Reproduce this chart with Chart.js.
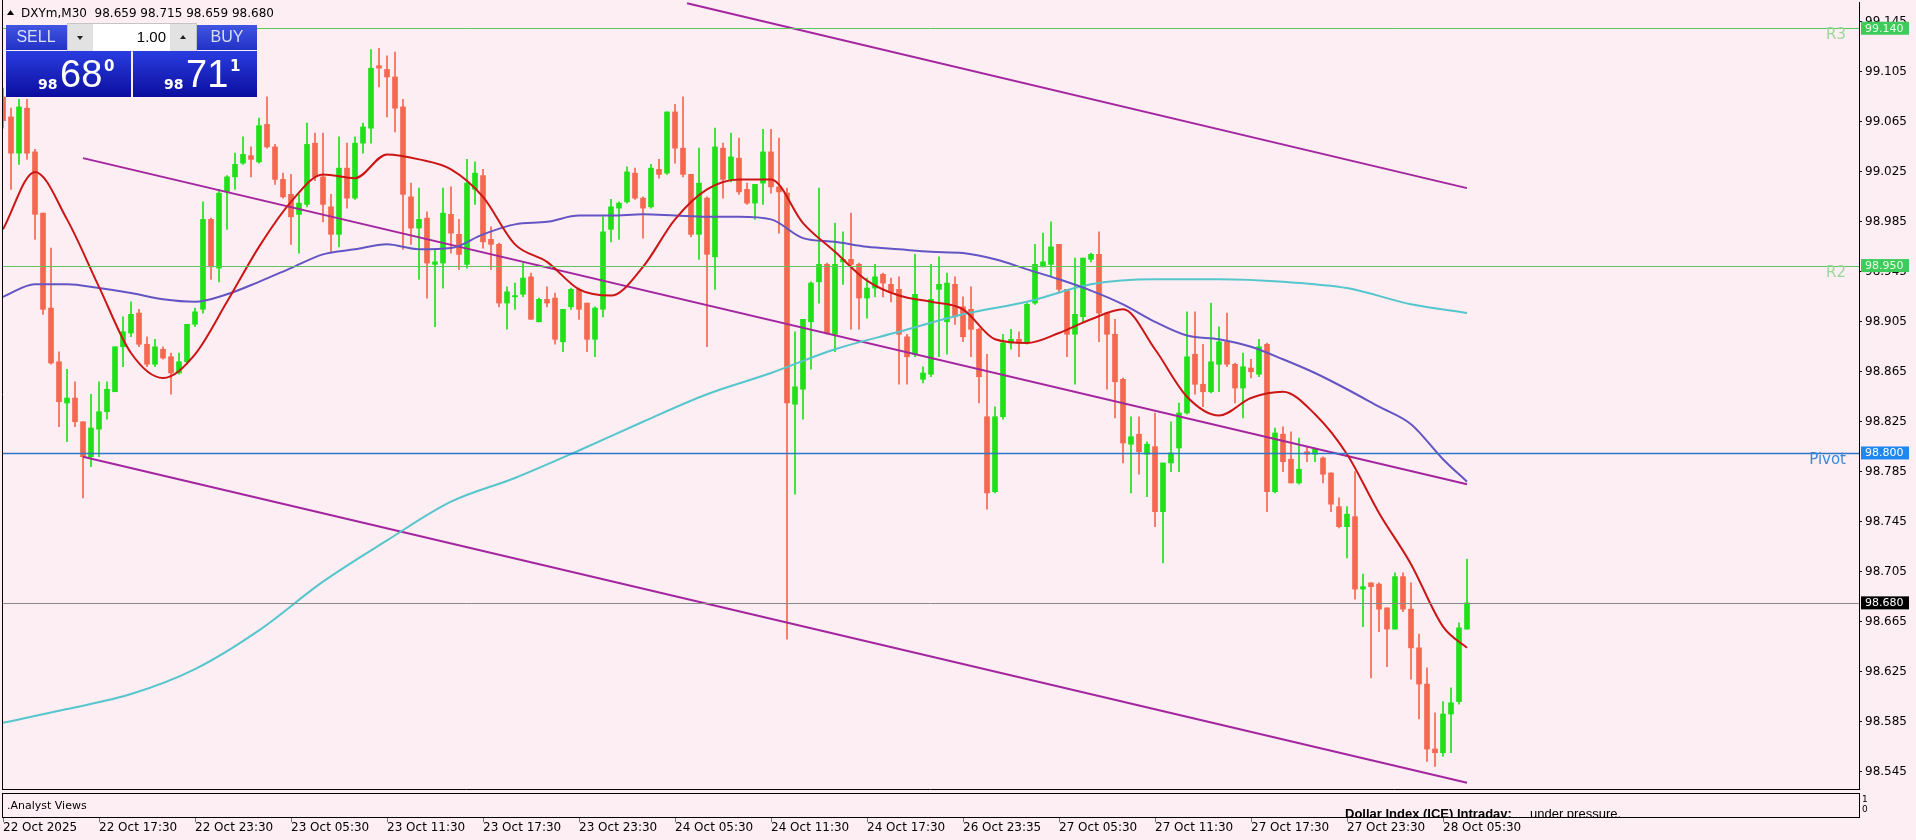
<!DOCTYPE html>
<html>
<head>
<meta charset="utf-8">
<script src="https://cdn.jsdelivr.net/npm/chart.js@4.4.1/dist/chart.umd.min.js"></script>
<style>
  html, body { margin: 0; padding: 0; background: #fdeef3; }
  #wrap { position: relative; width: 1916px; height: 840px; }
</style>
</head>
<body>
<div id="wrap"><canvas id="dxyChart"></canvas></div>
<script>
// time axis labels, one every 12 bars (M30)
var tickLabels = ['22 Oct 2025', '22 Oct 17:30', '22 Oct 23:30', '23 Oct 05:30', '23 Oct 11:30',
  '23 Oct 17:30', '23 Oct 23:30', '24 Oct 05:30', '24 Oct 11:30', '24 Oct 17:30', '26 Oct 23:35',
  '27 Oct 05:30', '27 Oct 11:30', '27 Oct 17:30', '27 Oct 23:30', '28 Oct 05:30'];
var priceTicks = [99.145, 99.105, 99.065, 99.025, 98.985, 98.945, 98.905, 98.865, 98.825,
  98.785, 98.745, 98.705, 98.665, 98.625, 98.585, 98.545];

var opens = [99.085, 99.069, 99.040, 99.076, 99.041, 98.992, 98.916, 98.873, 98.840, 98.844,
  98.825, 98.797, 98.819, 98.833, 98.849, 98.885, 98.896, 98.912, 98.887, 98.871,
  98.883, 98.877, 98.864, 98.873, 98.903, 98.915, 98.987, 98.948, 99.009, 99.021,
  99.032, 99.038, 99.033, 99.063, 99.045, 99.019, 99.007, 98.991, 98.999, 99.048,
  99.021, 98.997, 98.975, 99.028, 99.004, 99.048, 99.060, 99.110, 99.107, 99.101,
  99.077, 99.005, 98.980, 98.988, 98.951, 98.952, 98.991, 98.975, 98.951, 99.011,
  99.022, 98.971, 98.967, 98.920, 98.925, 98.927, 98.941, 98.905, 98.923, 98.924,
  98.889, 98.917, 98.931, 98.920, 98.891, 98.915, 98.979, 98.996, 99.001, 99.024,
  99.004, 98.997, 99.027, 99.024, 99.073, 99.044, 99.023, 98.975, 99.004, 98.957,
  99.044, 99.019, 99.036, 99.011, 99.000, 99.016, 99.041, 99.013, 99.008, 98.839,
  98.851, 98.905, 98.937, 98.951, 98.895, 98.953, 98.955, 98.951, 98.924, 98.932,
  98.943, 98.935, 98.931, 98.893, 98.879, 98.859, 98.863, 98.931, 98.905, 98.935,
  98.917, 98.915, 98.899, 98.829, 98.769, 98.829, 98.888, 98.891, 98.888, 98.920,
  98.949, 98.951, 98.967, 98.931, 98.895, 98.909, 98.955, 98.959, 98.912, 98.895,
  98.859, 98.807, 98.815, 98.799, 98.805, 98.753, 98.792, 98.804, 98.832, 98.879,
  98.855, 98.849, 98.871, 98.889, 98.871, 98.852, 98.868, 98.863, 98.887, 98.769,
  98.815, 98.795, 98.776, 98.801, 98.799, 98.796, 98.784, 98.757, 98.741, 98.749,
  98.691, 98.696, 98.695, 98.676, 98.659, 98.701, 98.675, 98.644, 98.615, 98.563,
  98.560, 98.591, 98.601, 98.659];
var highs = [99.092, 99.076, 99.083, 99.083, 99.043, 98.992, 98.964, 98.881, 98.867, 98.857,
  98.825, 98.847, 98.857, 98.857, 98.885, 98.909, 98.921, 98.915, 98.893, 98.891,
  98.885, 98.880, 98.880, 98.903, 98.916, 99.001, 98.988, 99.011, 99.022, 99.040,
  99.053, 99.045, 99.068, 99.085, 99.047, 99.024, 99.023, 99.007, 99.064, 99.056,
  99.056, 99.007, 99.053, 99.048, 99.053, 99.064, 99.123, 99.124, 99.118, 99.121,
  99.083, 99.016, 99.012, 98.993, 98.963, 99.012, 99.013, 98.987, 99.035, 99.033,
  99.027, 98.981, 98.968, 98.933, 98.936, 98.952, 98.944, 98.924, 98.933, 98.928,
  98.915, 98.932, 98.932, 98.920, 98.917, 98.989, 99.003, 99.001, 99.029, 99.028,
  99.005, 99.031, 99.035, 99.073, 99.079, 99.085, 99.023, 99.044, 99.005, 99.060,
  99.048, 99.056, 99.052, 99.016, 99.015, 99.059, 99.059, 99.052, 99.012, 98.897,
  98.907, 98.937, 99.012, 98.952, 98.984, 98.977, 98.992, 98.952, 98.940, 98.951,
  98.944, 98.940, 98.941, 98.895, 98.959, 98.869, 98.951, 98.957, 98.944, 98.941,
  98.925, 98.933, 98.900, 98.879, 98.837, 98.895, 98.899, 98.897, 98.920, 98.967,
  98.976, 98.985, 98.967, 98.931, 98.956, 98.956, 98.960, 98.977, 98.912, 98.907,
  98.860, 98.829, 98.829, 98.809, 98.832, 98.792, 98.825, 98.840, 98.913, 98.913,
  98.887, 98.920, 98.901, 98.912, 98.872, 98.880, 98.875, 98.891, 98.888, 98.820,
  98.821, 98.817, 98.812, 98.805, 98.804, 98.797, 98.784, 98.764, 98.757, 98.785,
  98.703, 98.696, 98.696, 98.676, 98.704, 98.704, 98.696, 98.655, 98.628, 98.592,
  98.601, 98.612, 98.664, 98.715];
var lows = [99.060, 99.011, 99.031, 99.035, 98.971, 98.911, 98.871, 98.821, 98.809, 98.821,
  98.764, 98.789, 98.797, 98.827, 98.849, 98.869, 98.893, 98.885, 98.869, 98.869,
  98.875, 98.847, 98.863, 98.871, 98.901, 98.912, 98.939, 98.937, 98.979, 99.011,
  99.031, 99.021, 99.032, 99.044, 99.015, 99.004, 98.967, 98.960, 98.997, 99.018,
  98.985, 98.961, 98.965, 98.996, 99.003, 99.040, 99.048, 99.093, 99.069, 99.057,
  98.963, 98.967, 98.939, 98.924, 98.901, 98.932, 98.960, 98.947, 98.948, 98.999,
  98.964, 98.947, 98.917, 98.899, 98.915, 98.925, 98.907, 98.905, 98.917, 98.887,
  98.881, 98.915, 98.907, 98.881, 98.877, 98.909, 98.969, 98.971, 99.000, 99.003,
  98.972, 98.996, 99.020, 99.023, 99.032, 99.021, 98.973, 98.955, 98.885, 98.931,
  99.004, 99.017, 99.007, 98.999, 98.987, 98.999, 99.008, 98.976, 98.651, 98.767,
  98.827, 98.867, 98.920, 98.895, 98.881, 98.935, 98.899, 98.899, 98.908, 98.925,
  98.925, 98.921, 98.855, 98.855, 98.877, 98.856, 98.861, 98.877, 98.879, 98.903,
  98.889, 98.877, 98.840, 98.755, 98.768, 98.827, 98.883, 98.877, 98.887, 98.919,
  98.949, 98.941, 98.928, 98.877, 98.855, 98.905, 98.953, 98.889, 98.851, 98.828,
  98.792, 98.768, 98.783, 98.765, 98.741, 98.712, 98.785, 98.785, 98.831, 98.847,
  98.837, 98.848, 98.849, 98.869, 98.840, 98.828, 98.860, 98.861, 98.753, 98.768,
  98.785, 98.776, 98.775, 98.793, 98.793, 98.776, 98.753, 98.740, 98.716, 98.683,
  98.661, 98.620, 98.657, 98.629, 98.659, 98.673, 98.619, 98.587, 98.553, 98.549,
  98.557, 98.560, 98.599, 98.659];
var closes = [99.066, 99.040, 99.077, 99.040, 98.991, 98.915, 98.872, 98.841, 98.844, 98.825,
  98.797, 98.820, 98.833, 98.851, 98.885, 98.897, 98.911, 98.887, 98.871, 98.885,
  98.876, 98.864, 98.873, 98.903, 98.913, 98.987, 98.949, 99.008, 99.021, 99.031,
  99.039, 99.035, 99.062, 99.045, 99.019, 99.005, 98.989, 99.000, 99.047, 99.021,
  98.999, 98.975, 99.028, 99.004, 99.048, 99.061, 99.108, 99.108, 99.101, 99.076,
  99.007, 98.980, 98.987, 98.952, 98.953, 98.992, 98.976, 98.959, 99.016, 99.024,
  98.969, 98.967, 98.920, 98.929, 98.926, 98.940, 98.907, 98.923, 98.920, 98.891,
  98.915, 98.931, 98.915, 98.891, 98.916, 98.977, 98.997, 99.000, 99.025, 99.004,
  98.996, 99.028, 99.023, 99.073, 99.044, 99.023, 98.975, 99.016, 98.959, 99.045,
  99.019, 99.037, 99.009, 99.000, 99.015, 99.041, 99.013, 99.009, 98.840, 98.853,
  98.907, 98.936, 98.951, 98.896, 98.951, 98.955, 98.951, 98.924, 98.932, 98.941,
  98.936, 98.929, 98.895, 98.877, 98.927, 98.864, 98.923, 98.935, 98.936, 98.909,
  98.893, 98.899, 98.861, 98.768, 98.829, 98.888, 98.891, 98.888, 98.919, 98.951,
  98.953, 98.965, 98.931, 98.895, 98.911, 98.956, 98.959, 98.912, 98.895, 98.857,
  98.808, 98.813, 98.801, 98.807, 98.753, 98.792, 98.800, 98.832, 98.877, 98.855,
  98.849, 98.873, 98.889, 98.871, 98.852, 98.869, 98.865, 98.885, 98.769, 98.816,
  98.793, 98.776, 98.787, 98.799, 98.803, 98.783, 98.759, 98.741, 98.751, 98.691,
  98.693, 98.693, 98.675, 98.659, 98.701, 98.675, 98.644, 98.615, 98.563, 98.560,
  98.591, 98.600, 98.660, 98.680];

// moving averages at these bar numbers
var maBars = [0, 4, 8, 12, 16, 20, 24, 28, 32, 36, 40, 44, 48, 52, 56, 60, 64, 68, 72, 76,
  80, 84, 88, 92, 96, 100, 104, 108, 112, 116, 120, 124, 128, 132, 136, 140, 144, 148, 152,
  156, 160, 164, 168, 172, 176, 180, 183];
var redMa = [98.979, 99.025, 98.987, 98.933, 98.880, 98.860, 98.879, 98.921, 98.965, 99.001,
  99.023, 99.020, 99.039, 99.035, 99.027, 99.005, 98.967, 98.953, 98.931, 98.926,
  98.949, 98.987, 99.011, 99.019, 99.019, 98.984, 98.961, 98.938, 98.926, 98.921,
  98.915, 98.891, 98.888, 98.896, 98.907, 98.915, 98.883, 98.845, 98.830, 98.844,
  98.849, 98.831, 98.799, 98.752, 98.711, 98.661, 98.644];
var purpleMa = [98.925, 98.935, 98.935, 98.932, 98.928, 98.923, 98.921, 98.927, 98.937, 98.948,
  98.959, 98.963, 98.967, 98.963, 98.964, 98.975, 98.983, 98.985, 98.990, 98.990,
  98.991, 98.990, 98.989, 98.989, 98.987, 98.972, 98.969, 98.965, 98.963, 98.961,
  98.960, 98.955, 98.947, 98.939, 98.930, 98.919, 98.905, 98.894, 98.891, 98.885,
  98.875, 98.864, 98.851, 98.837, 98.823, 98.795, 98.777];
var cyanBars = [0, 8, 16, 24, 32, 40, 48, 56, 64, 72, 80, 88, 96, 104, 112, 120, 128, 136,
  144, 152, 160, 168, 176, 183];
var cyanMa = [98.584, 98.595, 98.607, 98.627, 98.658, 98.697, 98.730, 98.761, 98.780, 98.802,
  98.825, 98.847, 98.864, 98.883, 98.897, 98.911, 98.921, 98.935, 98.939, 98.939,
  98.937, 98.932, 98.919, 98.912];

// trend channel, start and end points
var channelBars = [10, 183];
var upperChannelBars = [85.5, 183];
var upperChannel = [99.160, 99.012];
var middleChannel = [99.036, 98.775];
var lowerChannel = [98.797, 98.536];

var levelNames = ['R3', 'R2', 'Pivot'];
var levelValues = [99.140, 98.950, 98.800];

var colors = {
  bull: '#1ee01e',
  bear: '#ef6a50',
  red: '#cc1616',
  purple: '#6355c4',
  cyan: '#55c6cc',
  channel: '#a3259f',
  green: '#5fc65f',
  greenBox: '#3fca5c',
  greenText: '#98d898',
  blue: '#2a78c6',
  blueBox: '#1e88f0',
  blueText: '#3a88d8'
};

function pairs(xs, ys) {
  return xs.map(function(x, k) { return { x: x, y: ys[k] }; });
}

var last = closes.length - 1;
var bodies = opens.map(function(o, i) { return { x: i, y: [o, closes[i]] }; });
var wicks = lows.map(function(l, i) { return { x: i, y: [l, highs[i]] }; });
var candleColors = opens.map(function(o, i) { return closes[i] >= o ? colors.bull : colors.bear; });

function lineSet(data, color, width, smooth) {
  return {
    type: 'line', data: data, borderColor: color, borderWidth: width,
    pointRadius: 0, tension: smooth ? 0.4 : 0,
    cubicInterpolationMode: smooth ? 'monotone' : 'default', order: 1
  };
}

function drawBox(ctx, x, y, w, h, bg, fg, text) {
  ctx.fillStyle = bg;
  ctx.fillRect(x, y - h / 2, w, h);
  ctx.fillStyle = fg;
  ctx.font = '11px "DejaVu Sans"';
  ctx.textAlign = 'left';
  ctx.textBaseline = 'middle';
  ctx.fillText(text, x + 4, y + 0.5);
}

function drawPanel(ctx) {
  var g = ctx.createLinearGradient(0, 25, 0, 50);
  g.addColorStop(0, '#4154e2');
  g.addColorStop(1, '#2232c6');
  ctx.fillStyle = g;
  ctx.fillRect(6, 25, 61, 25);
  ctx.fillRect(197, 25, 60, 25);

  ctx.fillStyle = '#e2e2e2';
  ctx.fillRect(67, 23, 130, 29);
  ctx.fillStyle = '#ffffff';
  ctx.fillRect(93, 24, 77, 27);
  ctx.strokeStyle = '#c4c4c4';
  ctx.lineWidth = 1;
  ctx.strokeRect(67.5, 23.5, 129, 28);

  ctx.fillStyle = '#222';
  ctx.beginPath();
  ctx.moveTo(77, 36); ctx.lineTo(83, 36); ctx.lineTo(80, 40); ctx.closePath(); ctx.fill();
  ctx.beginPath();
  ctx.moveTo(180, 39); ctx.lineTo(186, 39); ctx.lineTo(183, 35); ctx.closePath(); ctx.fill();

  var g2 = ctx.createLinearGradient(0, 51, 0, 97);
  g2.addColorStop(0, '#2a3ce0');
  g2.addColorStop(1, '#0b0e9e');
  ctx.fillStyle = g2;
  ctx.fillRect(6, 51, 125, 46);
  ctx.fillRect(133, 51, 124, 46);

  ctx.textBaseline = 'middle';
  ctx.textAlign = 'center';
  ctx.font = '16px "Liberation Sans"';
  ctx.fillStyle = '#d8defc';
  ctx.fillText('SELL', 36, 38);
  ctx.fillText('BUY', 227, 38);
  ctx.textAlign = 'right';
  ctx.fillStyle = '#000';
  ctx.font = '15px "Liberation Sans"';
  ctx.fillText('1.00', 166, 38);

  ctx.textBaseline = 'alphabetic';
  ctx.textAlign = 'left';
  ctx.fillStyle = '#ffffff';
  ctx.font = 'bold 14px "DejaVu Sans"';
  ctx.fillText('98', 38, 89);
  ctx.fillText('98', 164, 89);
  ctx.font = '38px "Liberation Sans"';
  ctx.fillText('68', 60, 87);
  ctx.fillText('71', 186, 87);
  ctx.font = 'bold 15px "DejaVu Sans"';
  ctx.fillText('0', 104, 71);
  ctx.fillText('1', 230, 71);
}

var overlayPlugin = {
  id: 'mt4Overlay',
  afterDatasetsDraw: function(chart) {
    var ctx = chart.ctx, area = chart.chartArea, ys = chart.scales.y;
    ctx.save();
    levelNames.forEach(function(name, k) {
      var py = Math.round(ys.getPixelForValue(levelValues[k])) + 0.5;
      ctx.strokeStyle = name === 'Pivot' ? colors.blue : colors.green;
      ctx.lineWidth = name === 'Pivot' ? 1.5 : 1;
      ctx.beginPath(); ctx.moveTo(area.left, py); ctx.lineTo(area.right, py); ctx.stroke();
      ctx.fillStyle = name === 'Pivot' ? colors.blueText : colors.greenText;
      ctx.font = '15px "DejaVu Sans"';
      ctx.textAlign = 'right';
      ctx.textBaseline = 'middle';
      ctx.fillText(name, area.right - 13, py + 7);
    });
    var cy = Math.round(ys.getPixelForValue(closes[last])) + 0.5;
    ctx.strokeStyle = '#8a8a8a';
    ctx.lineWidth = 1;
    ctx.beginPath(); ctx.moveTo(area.left, cy); ctx.lineTo(area.right, cy); ctx.stroke();
    ctx.restore();
  },
  afterDraw: function(chart) {
    var ctx = chart.ctx, area = chart.chartArea, ys = chart.scales.y, xs = chart.scales.x;
    ctx.save();
    // price boxes on the axis
    levelNames.forEach(function(name, k) {
      var py = ys.getPixelForValue(levelValues[k]);
      if (name === 'Pivot') drawBox(ctx, area.right + 2, py, 48, 13, colors.blueBox, '#ffffff', levelValues[k].toFixed(3));
      else drawBox(ctx, area.right + 2, py, 48, 13, colors.greenBox, '#e4ffe6', levelValues[k].toFixed(3));
    });
    drawBox(ctx, area.right + 2, ys.getPixelForValue(closes[last]), 48, 13, '#000000', '#ffffff', closes[last].toFixed(3));

    // window frames
    ctx.strokeStyle = '#000';
    ctx.lineWidth = 1;
    ctx.beginPath();
    ctx.moveTo(area.left + 0.5, 0); ctx.lineTo(area.left + 0.5, area.bottom);
    ctx.moveTo(area.left, area.bottom + 0.5); ctx.lineTo(area.right, area.bottom + 0.5);
    ctx.stroke();
    ctx.strokeRect(area.left + 0.5, 793.5, area.right - area.left, 24);

    // indicator subwindow
    ctx.fillStyle = '#000';
    ctx.font = '11px "DejaVu Sans"';
    ctx.textAlign = 'left';
    ctx.textBaseline = 'middle';
    ctx.fillText('.Analyst Views', area.left + 5, 806);
    ctx.font = '9px "DejaVu Sans"';
    ctx.fillText('1', area.right + 3, 800);
    ctx.fillText('0', area.right + 3, 810);
    ctx.save();
    ctx.beginPath(); ctx.rect(area.left, 794, area.right - area.left, 23); ctx.clip();
    ctx.textBaseline = 'alphabetic';
    ctx.font = 'bold 13px "Liberation Sans"';
    ctx.fillText('Dollar Index (ICE) Intraday:', 1345, 818);
    ctx.font = '13px "Liberation Sans"';
    ctx.fillText('under pressure.', 1530, 818);
    ctx.restore();

    // time axis tick marks
    ctx.strokeStyle = '#777';
    ctx.beginPath();
    xs.ticks.forEach(function(t) {
      var px = Math.round(xs.getPixelForValue(t.value)) + 0.5;
      ctx.moveTo(px, 818); ctx.lineTo(px, 822);
    });
    ctx.stroke();

    // header
    ctx.fillStyle = '#000';
    ctx.beginPath();
    ctx.moveTo(7, 15); ctx.lineTo(14, 15); ctx.lineTo(10.5, 10); ctx.closePath(); ctx.fill();
    ctx.font = '12px "DejaVu Sans"';
    ctx.textBaseline = 'alphabetic';
    ctx.fillText('DXYm,M30  ' + opens[last].toFixed(3) + ' ' + highs[last].toFixed(3) + ' ' +
      lows[last].toFixed(3) + ' ' + closes[last].toFixed(3), 21, 17);

    drawPanel(ctx);
    ctx.restore();
  }
};

window.onload = function() {
  var ctx = document.getElementById('dxyChart').getContext('2d');
  window.dxyChart = new Chart(ctx, {
    type: 'bar',
    data: {
      datasets: [
        lineSet(pairs(maBars, redMa), colors.red, 2, true),
        lineSet(pairs(maBars, purpleMa), colors.purple, 2, true),
        lineSet(pairs(cyanBars, cyanMa), colors.cyan, 2, true),
        lineSet(pairs(upperChannelBars, upperChannel), colors.channel, 2, false),
        lineSet(pairs(channelBars, middleChannel), colors.channel, 2, false),
        lineSet(pairs(channelBars, lowerChannel), colors.channel, 2, false),
        { type: 'bar', data: bodies, backgroundColor: candleColors, barThickness: 5,
          grouped: false, minBarLength: 1, order: 5 },
        { type: 'bar', data: wicks, backgroundColor: candleColors, barThickness: 1,
          grouped: false, order: 6 }
      ]
    },
    options: {
      responsive: true,
      maintainAspectRatio: false,
      animation: false,
      events: [],
      layout: { padding: { left: 2, top: 2, right: 0, bottom: 0 } },
      plugins: { legend: { display: false }, tooltip: { enabled: false } },
      scales: {
        x: {
          type: 'linear', min: -0.125, max: 232, offset: false, position: 'bottom',
          grid: { display: false, drawTicks: true, tickLength: 32 },
          border: { display: false },
          afterFit: function(s) { s.height = 51; s.paddingLeft = 0; s.paddingRight = 0; },
          afterBuildTicks: function(s) {
            s.ticks = tickLabels.map(function(t, k) { return { value: k * 12 }; });
          },
          ticks: {
            autoSkip: false, maxRotation: 0, align: 'start', padding: 0, color: '#000',
            font: { family: 'DejaVu Sans', size: 12 },
            callback: function(v) { return tickLabels[Math.round(v / 12)]; }
          }
        },
        y: {
          position: 'right', min: 98.531, max: 99.161, beginAtZero: false,
          afterFit: function(s) { s.width = 57; s.paddingTop = 0; s.paddingBottom = 0; },
          afterBuildTicks: function(s) {
            s.ticks = priceTicks.map(function(v) { return { value: v }; });
          },
          grid: { drawOnChartArea: false, tickLength: 3, color: '#000' },
          border: { display: true, color: '#000' },
          ticks: {
            padding: 3, color: '#000',
            font: { family: 'DejaVu Sans', size: 12 },
            callback: function(v) { return v.toFixed(3); }
          }
        }
      }
    },
    plugins: [overlayPlugin]
  });
};
</script>
</body>
</html>
